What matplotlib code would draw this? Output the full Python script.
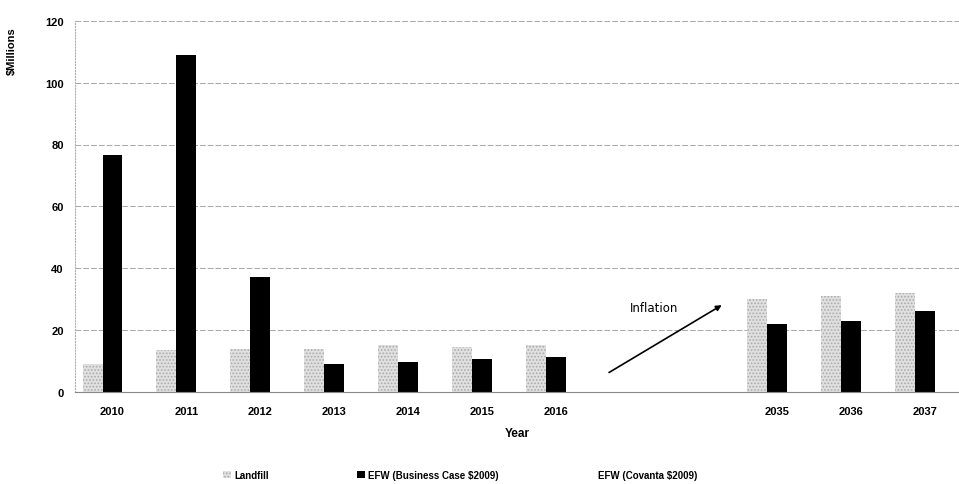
import matplotlib.pyplot as plt
import numpy as np

plt.rcParams['font.family'] = ['Liberation Sans', 'DejaVu Sans']
plt.rcParams['hatch.linewidth'] = 0.8

years = ['2010', '2011', '2012', '2013', '2014', '2015', '2016', '', '', '2035', '2036', '2037']
landfill = [9, 13.5, 14, 14, 15, 14.5, 15, 0, 0, 30, 31, 32]
efw_business = [76.5, 109, 37, 9, 9.8, 10.7, 11.3, 0, 0, 21.8, 23, 26]
efw_covanta = [0, 0, 0, 0, 0, 0, 0, 0, 0, 0, 0, 0]

fig = plt.figure(figsize=(9.59, 4.85), dpi=100)
ax = fig.add_axes([0.078, 0.19, 0.922, 0.765])

x = np.arange(len(years))
w = 0.27
ax.bar(x - w, landfill, w, color='#e0e0e0', edgecolor='#ababab', hatch='.....',
       linewidth=0, label='Landfill', zorder=2)
ax.bar(x, efw_business, w, color='black', label='EFW (Business Case $2009)', zorder=2)
ax.bar(x + w, efw_covanta, w, color='white', label='EFW (Covanta $2009)', zorder=2)

ax.set_xlim(-0.51, 11.46)
ax.set_ylim(0, 120)
ax.set_yticks(range(0, 121, 20))
ax.set_xticks(x)
ax.set_xticklabels(years, fontsize=8, fontweight='bold')
ax.tick_params(axis='y', labelsize=8, length=0, pad=8)
ax.tick_params(axis='x', length=0, pad=10)
for lab in ax.get_yticklabels():
    lab.set_fontweight('bold')
ax.yaxis.grid(True, color='#a8a8a8', linestyle=(0, (6, 2)), linewidth=0.7, zorder=0)
ax.set_axisbelow(True)
for s in ['top', 'right']:
    ax.spines[s].set_visible(False)
ax.spines['left'].set_color('#b0b0b0')
ax.spines['left'].set_linestyle(':')
ax.spines['bottom'].set_color('#888888')
ax.spines['bottom'].set_linewidth(0.8)

ax.set_ylabel('$Millions', fontsize=8, fontweight='bold', labelpad=2)
ax.yaxis.set_label_coords(-0.065, 0.92)
ax.set_xlabel('Year', fontsize=8.5, fontweight='bold', labelpad=8)

ax.annotate('', xy=(8.28, 28.5), xytext=(6.69, 5.8),
            arrowprops=dict(arrowstyle='-|>', color='black', lw=1.2, mutation_scale=8))
ax.text(7.0, 26, 'Inflation', fontsize=8.5, family=['DejaVu Sans'])

fig.legend(loc='lower center', bbox_to_anchor=(0.48, -0.01), ncol=3, frameon=False,
           prop={'weight': 'bold', 'size': 7}, columnspacing=9,
           handlelength=0.8, handleheight=0.8, handletextpad=0.4)

fig.savefig('out.png', dpi=100)
